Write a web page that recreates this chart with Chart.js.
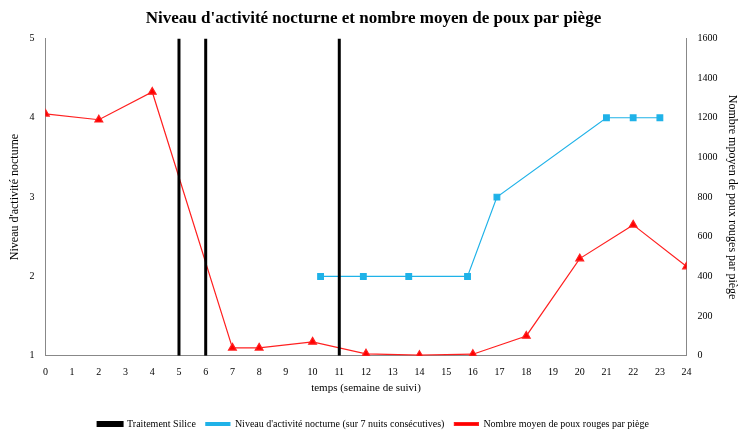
<!DOCTYPE html><html><head><script src="https://cdn.jsdelivr.net/npm/chart.js@4"></script>
<style>body{margin:0;background:#fff}#w{width:747px;height:439px}</style></head><body><div id="w"><canvas id="c"></canvas></div>
<script>
const silicaWeeks=[5,6,11];
const activityX=[10.3,11.9,13.6,15.8,16.9,21,22,23];
const activityY=[2,2,2,2,3,4,4,4];
const liceX=[0,2,4,7,8,10,12,14,16,18,20,22,24];
const liceY=[1220,1190,1330,40,40,70,10,3,8,100,490,660,450];
const silica=[];silicaWeeks.forEach(w=>{silica.push({x:w,y:1},{x:w,y:5},{x:w,y:null});});
const F='Liberation Serif';
Chart.defaults.font.family=F;Chart.defaults.color='#000';
new Chart(document.getElementById('c'),{type:'scatter',data:{datasets:[
{label:'Traitement Silice',data:silica,showLine:true,spanGaps:false,borderColor:'#000',backgroundColor:'#000',borderWidth:3,pointRadius:0,yAxisID:'y'},
{label:"Niveau d'activité nocturne (sur 7 nuits consécutives)",data:activityX.map((x,i)=>({x,y:activityY[i]})),showLine:true,borderColor:'#1fb2e8',backgroundColor:'#1fb2e8',borderWidth:1.2,pointStyle:'rect',pointRadius:4,yAxisID:'y'},
{label:'Nombre moyen de poux rouges par piège',data:liceX.map((x,i)=>({x,y:liceY[i]})),showLine:true,borderColor:'#ff2020',backgroundColor:'#ff0000',borderWidth:1.2,pointStyle:'triangle',pointRadius:4.5,yAxisID:'y1'}
]},options:{responsive:true,maintainAspectRatio:false,animation:false,
layout:{padding:{left:4,right:4,top:4,bottom:0}},
plugins:{title:{display:true,text:"Niveau d'activité nocturne et nombre moyen de poux par piège",font:{size:17,weight:'bold',family:F},padding:{top:4,bottom:10}},
legend:{position:'bottom',labels:{font:{size:10},boxWidth:24,boxHeight:3,usePointStyle:false,padding:10}},tooltip:{enabled:false}},
scales:{x:{type:'linear',min:0,max:24,ticks:{stepSize:1,font:{size:10}},grid:{display:false},border:{color:'#888'},title:{display:true,text:'temps (semaine de suivi)',font:{size:11},padding:{top:0,bottom:14}}},
y:{position:'left',min:1,max:5,ticks:{stepSize:1,font:{size:10}},grid:{display:false},border:{color:'#888'},title:{display:true,text:"Niveau d'activité nocturne",font:{size:12}}},
y1:{position:'right',min:0,max:1600,ticks:{stepSize:200,font:{size:10},callback:v=>String(v)},grid:{display:false},border:{color:'#888'},title:{display:true,text:'Nombre mpoyen de poux rouges par piège',font:{size:12}}}}}});
</script></body></html>
